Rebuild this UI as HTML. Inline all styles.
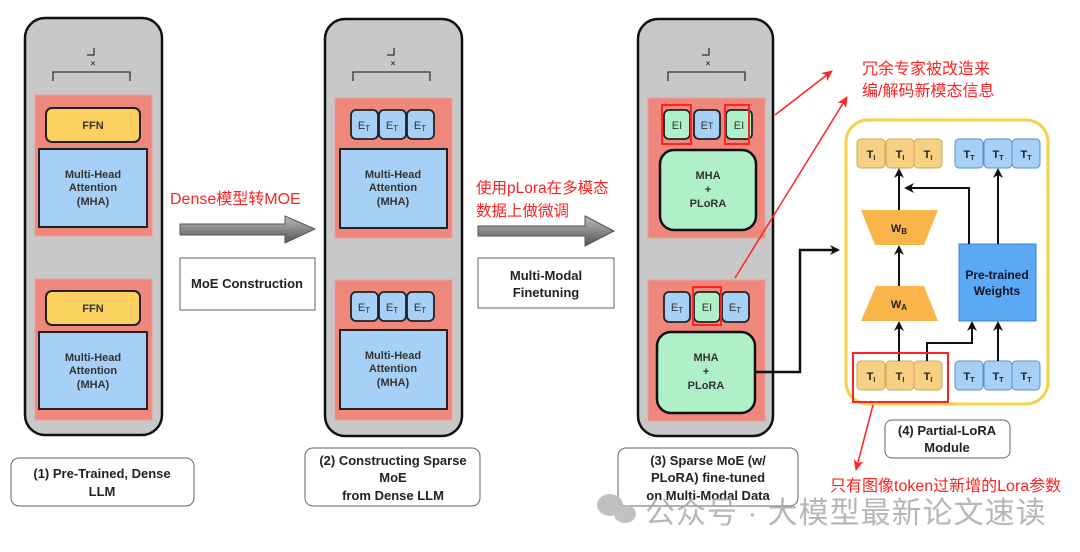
<!DOCTYPE html>
<html><head><meta charset="utf-8"><style>
html,body{margin:0;padding:0;background:#fff;}
svg{display:block;}
text{font-family:"Liberation Sans",Arial,sans-serif;}
.cn{font-family:"Liberation Sans","Noto Sans CJK SC",sans-serif;}
</style></head><body>
<svg width="1080" height="552" viewBox="0 0 1080 552" xmlns="http://www.w3.org/2000/svg">
<defs>
<linearGradient id="ag" x1="0" y1="0" x2="0" y2="1">
<stop offset="0" stop-color="#bbb"/><stop offset="0.5" stop-color="#888"/><stop offset="1" stop-color="#555"/>
</linearGradient>
<marker id="ah" markerWidth="10" markerHeight="10" refX="8" refY="5" orient="auto" markerUnits="userSpaceOnUse"><path d="M0,0 L10,5 L0,10 L3,5 z" fill="#111"/></marker>
<marker id="rh" markerWidth="12" markerHeight="12" refX="10" refY="6" orient="auto" markerUnits="userSpaceOnUse"><path d="M0,1 L11,6 L0,11 L3,6 z" fill="#f22"/></marker>
</defs>

<g stroke="#111" stroke-width="2.5" fill="#c8c8c8">
<rect x="25" y="18" width="137" height="417" rx="20"/>
<rect x="325" y="19" width="137" height="417" rx="20"/>
<rect x="638" y="19" width="135" height="417" rx="20"/>
</g>
<g stroke="#333" stroke-width="1.3" fill="none">
<path d="M53,81 V72 H130 V81"/><path d="M353,81 V72 H430 V81"/><path d="M668,81 V72 H745 V81"/>
<path d="M87,55 H94 V48"/><path d="M387,55 H394 V48"/><path d="M702,55 H709 V48"/>
</g>
<g font-size="8" font-weight="bold" fill="#333" text-anchor="middle">
<text x="93" y="66">×</text><text x="393" y="66">×</text><text x="708" y="66">×</text>
</g>

<g fill="#f0877d" stroke="#e5a09a" stroke-width="1">
<rect x="35" y="95" width="117" height="141"/><rect x="35" y="279" width="117" height="141"/>
<rect x="335" y="98" width="117" height="140"/><rect x="335" y="280" width="117" height="140"/>
<rect x="648" y="98" width="117" height="140"/><rect x="648" y="280" width="117" height="141"/>
</g>

<g stroke="#222" stroke-width="2">
<rect x="46" y="108" width="94" height="34" rx="6" fill="#fdd160"/>
<rect x="46" y="291" width="94" height="34" rx="6" fill="#fdd160"/>
<rect x="39" y="149" width="108" height="78" fill="#a6d0f5"/>
<rect x="39" y="332" width="108" height="77" fill="#a6d0f5"/>
<rect x="340" y="149" width="107" height="79" fill="#a6d0f5"/>
<rect x="340" y="330" width="107" height="79" fill="#a6d0f5"/>
</g>
<g font-size="11" font-weight="bold" fill="#333" text-anchor="middle">
<text x="93" y="129">FFN</text><text x="93" y="312">FFN</text>
<text x="93" y="178">Multi-Head</text><text x="93" y="191">Attention</text><text x="93" y="205">(MHA)</text>
<text x="93" y="361">Multi-Head</text><text x="93" y="374">Attention</text><text x="93" y="388">(MHA)</text>
<text x="393" y="178">Multi-Head</text><text x="393" y="191">Attention</text><text x="393" y="205">(MHA)</text>
<text x="393" y="359">Multi-Head</text><text x="393" y="372">Attention</text><text x="393" y="386">(MHA)</text>
</g>

<g stroke="#222" stroke-width="1.8" fill="#a6d0f5">
<rect x="351" y="110" width="27" height="29" rx="5"/><rect x="379" y="110" width="27" height="29" rx="5"/><rect x="407" y="110" width="27" height="29" rx="5"/>
<rect x="351" y="292" width="27" height="29" rx="5"/><rect x="379" y="292" width="27" height="29" rx="5"/><rect x="407" y="292" width="27" height="29" rx="5"/>
</g>
<g font-size="11" fill="#333" text-anchor="middle">
<text x="364" y="129">E<tspan font-size="8" dy="2">T</tspan></text><text x="392" y="129">E<tspan font-size="8" dy="2">T</tspan></text><text x="420" y="129">E<tspan font-size="8" dy="2">T</tspan></text>
<text x="364" y="311">E<tspan font-size="8" dy="2">T</tspan></text><text x="392" y="311">E<tspan font-size="8" dy="2">T</tspan></text><text x="420" y="311">E<tspan font-size="8" dy="2">T</tspan></text>
</g>

<g stroke="#222" stroke-width="1.8">
<rect x="664" y="110" width="26" height="29" rx="5" fill="#b0f0c8"/>
<rect x="694" y="110" width="26" height="29" rx="5" fill="#a6d0f5"/>
<rect x="726" y="110" width="26" height="29" rx="5" fill="#b0f0c8"/>
<rect x="664" y="292" width="26" height="30" rx="5" fill="#a6d0f5"/>
<rect x="694" y="292" width="26" height="30" rx="5" fill="#b0f0c8"/>
<rect x="722" y="292" width="27" height="30" rx="5" fill="#a6d0f5"/>
</g>
<g stroke="#111" stroke-width="2.5" fill="#b0f0c8">
<rect x="660" y="150" width="96" height="80" rx="14"/>
<rect x="657" y="332" width="98" height="81" rx="14"/>
</g>
<g fill="none" stroke="#f22" stroke-width="2">
<rect x="662" y="105" width="29" height="39"/><rect x="725" y="105" width="24" height="39"/><rect x="693" y="287" width="28" height="38"/>
</g>
<g font-size="11" fill="#333" text-anchor="middle">
<text x="677" y="129">EI</text><text x="707" y="129">E<tspan font-size="9">T</tspan></text><text x="739" y="129">EI</text>
<text x="677" y="311">E<tspan font-size="8" dy="2">T</tspan></text><text x="707" y="311">EI</text><text x="735" y="311">E<tspan font-size="8" dy="2">T</tspan></text>
</g>
<g font-size="11" font-weight="bold" fill="#333" text-anchor="middle">
<text x="708" y="179">MHA</text><text x="708" y="193">+</text><text x="708" y="207">PLoRA</text>
<text x="706" y="361">MHA</text><text x="706" y="375">+</text><text x="706" y="389">PLoRA</text>
</g>
<polyline points="755,372 800,372 800,250 838,250" fill="none" stroke="#111" stroke-width="2.5" marker-end="url(#ah)"/>

<path d="M180,224 H285 V216 L315,229 L285,243 V235 H180 Z" fill="url(#ag)" stroke="#555" stroke-width="1"/>
<path d="M478,226 H585 V216 L614,231 L585,246 V236 H478 Z" fill="url(#ag)" stroke="#555" stroke-width="1"/>
<rect x="180" y="258" width="135" height="52" fill="#fff" stroke="#666" stroke-width="1"/>
<rect x="478" y="258" width="136" height="50" fill="#fff" stroke="#666" stroke-width="1"/>
<g font-size="13" font-weight="bold" fill="#222" text-anchor="middle">
<text x="247" y="288">MoE Construction</text>
<text x="546" y="280">Multi-Modal</text><text x="546" y="297">Finetuning</text>
</g>
<text x="170" y="204" class="cn" font-size="16" fill="#f22">Dense模型转MOE</text>
<text x="476" y="193" class="cn" font-size="15.5" fill="#f22">使用pLora在多模态</text>
<text x="476" y="216" class="cn" font-size="15.5" fill="#f22">数据上做微调</text>

<g fill="#fff" stroke="#666" stroke-width="1">
<rect x="11" y="458" width="183" height="48" rx="8"/>
<rect x="305" y="448" width="175" height="58" rx="8"/>
<rect x="618" y="448" width="180" height="58" rx="8"/>
<rect x="885" y="420" width="125" height="38" rx="7"/>
</g>
<g font-size="13" font-weight="bold" fill="#222" text-anchor="middle">
<text x="102" y="478">(1) Pre-Trained, Dense</text><text x="102" y="496">LLM</text>
<text x="393" y="465">(2) Constructing Sparse</text><text x="393" y="482">MoE</text><text x="393" y="500">from Dense LLM</text>
<text x="708" y="465">(3) Sparse MoE (w/</text><text x="708" y="482">PLoRA) fine-tuned</text><text x="708" y="500">on Multi-Modal Data</text>
<text x="947" y="435">(4) Partial-LoRA</text><text x="947" y="452">Module</text>
</g>

<rect x="846" y="120" width="202" height="284" rx="22" fill="#fff" stroke="#f5d04a" stroke-width="3"/>
<g stroke="#c8aa60" stroke-width="1" fill="#f7d084">
<rect x="857" y="139" width="28" height="29" rx="4"/><rect x="886" y="139" width="28" height="29" rx="4"/><rect x="914" y="139" width="28" height="29" rx="4"/>
<rect x="857" y="361" width="28" height="29" rx="4"/><rect x="886" y="361" width="28" height="29" rx="4"/><rect x="914" y="361" width="28" height="29" rx="4"/>
</g>
<g stroke="#5a90c8" stroke-width="1" fill="#a6d0f5">
<rect x="955" y="139" width="28" height="29" rx="4"/><rect x="984" y="139" width="28" height="29" rx="4"/><rect x="1012" y="139" width="28" height="29" rx="4"/>
<rect x="955" y="361" width="28" height="29" rx="4"/><rect x="984" y="361" width="28" height="29" rx="4"/><rect x="1012" y="361" width="28" height="29" rx="4"/>
</g>
<g font-size="11" font-weight="bold" fill="#222" text-anchor="middle">
<text x="871" y="158">T<tspan font-size="7" dy="2">I</tspan></text><text x="900" y="158">T<tspan font-size="7" dy="2">I</tspan></text><text x="928" y="158">T<tspan font-size="7" dy="2">I</tspan></text>
<text x="871" y="380">T<tspan font-size="7" dy="2">I</tspan></text><text x="900" y="380">T<tspan font-size="7" dy="2">I</tspan></text><text x="928" y="380">T<tspan font-size="7" dy="2">I</tspan></text>
<text x="969" y="158">T<tspan font-size="7" dy="2">T</tspan></text><text x="998" y="158">T<tspan font-size="7" dy="2">T</tspan></text><text x="1026" y="158">T<tspan font-size="7" dy="2">T</tspan></text>
<text x="969" y="380">T<tspan font-size="7" dy="2">T</tspan></text><text x="998" y="380">T<tspan font-size="7" dy="2">T</tspan></text><text x="1026" y="380">T<tspan font-size="7" dy="2">T</tspan></text>
</g>
<polygon points="861,210 938,210 924,245 875,245" fill="#f9b54a"/>
<polygon points="876,286 924,286 938,321 861,321" fill="#f9b54a"/>
<rect x="959" y="244" width="77" height="77" fill="#5ba9f5" stroke="#3a80d0" stroke-width="1"/>
<g font-size="11" font-weight="bold" fill="#222" text-anchor="middle">
<text x="899" y="232">W<tspan font-size="8" dy="2">B</tspan></text>
<text x="899" y="308">W<tspan font-size="8" dy="2">A</tspan></text>
</g>
<g font-size="12" font-weight="bold" fill="#112" text-anchor="middle">
<text x="997" y="279">Pre-trained</text><text x="997" y="295">Weights</text>
</g>
<g fill="none" stroke="#111" stroke-width="2" marker-end="url(#ah)">
<line x1="899" y1="210" x2="899" y2="170"/>
<line x1="899" y1="286" x2="899" y2="247"/>
<line x1="899" y1="361" x2="899" y2="323"/>
<polyline points="927,361 927,343 972,343 972,323"/>
<line x1="998" y1="361" x2="998" y2="323"/>
<line x1="998" y1="244" x2="998" y2="170"/>
<polyline points="969,244 969,188 906,188"/>
</g>
<rect x="853" y="353" width="95" height="49" fill="none" stroke="#f22" stroke-width="2"/>

<g stroke="#f22" stroke-width="1.5" fill="none" marker-end="url(#rh)">
<line x1="775" y1="115" x2="832" y2="71"/>
<line x1="735" y1="278" x2="847" y2="97"/>
<line x1="873" y1="405" x2="856" y2="470"/>
</g>
<text x="862" y="74" class="cn" font-size="16" fill="#f22">冗余专家被改造来</text>
<text x="862" y="96" class="cn" font-size="16" fill="#f22">编/解码新模态信息</text>
<text x="830" y="491" class="cn" font-size="16" fill="#f22">只有图像token过新增的Lora参数</text>

<g fill="#bbb" opacity="0.9">
<ellipse cx="610" cy="505" rx="13" ry="11"/><ellipse cx="625" cy="514" rx="11" ry="9"/>
</g>
<text x="645" y="523" class="cn" font-size="30" letter-spacing="1" fill="#aaa" opacity="0.85">公众号 · 大模型最新论文速读</text>
</svg>
</body></html>
